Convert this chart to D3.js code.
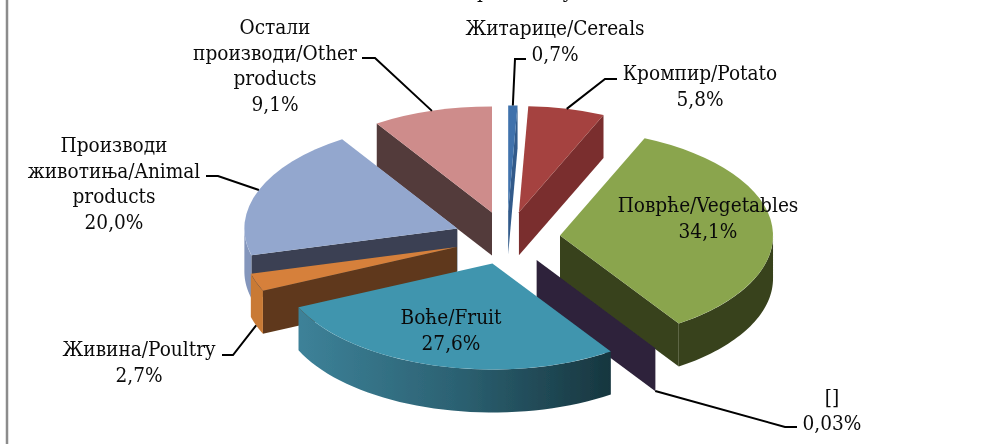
<!DOCTYPE html>
<html>
<head>
<meta charset="utf-8">
<script src="https://cdn.jsdelivr.net/npm/d3@7"></script>
<style>
  html, body { margin: 0; padding: 0; background: #fff; }
  svg { display: block; }
  text { font-family: "DejaVu Serif", serif; font-stretch: condensed; font-size: 20.6px; fill: #0a0a0a; text-anchor: middle; }
</style>
</head>
<body>
<svg id="chart" width="982" height="444"></svg>
<script>
// slices go clockwise from 12 o'clock
const categories = ['cereals', 'potato', 'vegetables', 'empty', 'fruit', 'poultry', 'animal', 'other'];
const values = [0.7, 5.8, 34.1, 0.03, 27.6, 2.7, 20.0, 9.1];
const valueLabels = ['0,7%', '5,8%', '34,1%', '0,03%', '27,6%', '2,7%', '20,0%', '9,1%'];
const nameLines = [
	['Житарице/Cereals'],
	['Кромпир/Potato'],
	['Поврће/Vegetables'],
	['[]'],
	['Воће/Fruit'],
	['Живина/Poultry'],
	['Производи', 'животиња/Animal', 'products'],
	['Остали', 'производи/Other', 'products']
];
// only descenders of the cropped title are left in the picture, these letters are a guess from their shape
const titleScraps = ['р', 'у'];

const w = 982, h = 444;
const cx = 507, cy = 238;
const rx = 213, ry = 106;
const depth = 43;
const explode = 0.25;

const topColors = ['#3f72ac', '#a5433f', '#8aa54d', '#8aa54d', '#3f95ae', '#d6803a', '#93a7ce', '#ce8c8b'];
const sideColors = ['#305a8a', '#7a2f2e', '#39431e', '#2d233a', '#2a5f70', '#5e391a', '#3a4153', '#533a3a'];
const wallColors = ['#305a8a', '#7a2f2e', '#39431e', '#2d233a', 'url(#fruitWall)', '#c97a35', '#8496bc', '#533a3a'];

// far slices first, the near ones paint over them
const drawOrder = ['other', 'cereals', 'potato', 'animal', 'poultry', 'vegetables', 'empty', 'fruit'];

// text centre x, first line y and leader elbow for each label
const labelLayout = {
	cereals: {x: 555, y: 35, leader: [[526, 59], [515, 59]]},
	potato: {x: 700, y: 80, leader: [[617, 79], [605, 79]]},
	vegetables: {x: 708, y: 212},
	empty: {x: 832, y: 404, leader: [[797, 427], [785, 427]]},
	fruit: {x: 451, y: 324},
	poultry: {x: 139, y: 356, leader: [[222, 355], [233, 355]]},
	animal: {x: 114, y: 152, leader: [[206, 176], [218, 176]]},
	other: {x: 275, y: 34, leader: [[362, 58], [375, 58]]}
};
const lineHeight = 25.5;

const svg = d3.select('#chart');
const defs = svg.append('defs');

defs.append('filter').attr('id', 'soft')
	.append('feGaussianBlur').attr('stdDeviation', 0.6);

const grad = defs.append('linearGradient')
	.attr('id', 'fruitWall')
	.attr('gradientUnits', 'userSpaceOnUse')
	.attr('x1', 297).attr('x2', 611).attr('y1', 0).attr('y2', 0);
grad.append('stop').attr('offset', 0).attr('stop-color', '#3d8299');
grad.append('stop').attr('offset', 0.5).attr('stop-color', '#2c6273');
grad.append('stop').attr('offset', 1).attr('stop-color', '#17363f');

const pie = d3.pie().sort(null).startAngle(0).endAngle(2 * Math.PI);
const slices = pie(values).map((d, i) => {
	const mid = (d.startAngle + d.endAngle) / 2;
	return Object.assign(d, {
		key: categories[i],
		index: i,
		mid: mid,
		ax: cx + explode * rx * Math.sin(mid),
		ay: cy - explode * ry * Math.cos(mid)
	});
});

// point on the rim of a slice, dz pushes it down to the bottom of the wall
function rim(d, angle, dz) {
	return [d.ax + rx * Math.sin(angle), d.ay - ry * Math.cos(angle) + (dz || 0)];
}

const line = d3.line();
const arc = d3.arc().innerRadius(0).outerRadius(rx);

function cutFace(d, angle) {
	return line([[d.ax, d.ay], rim(d, angle), rim(d, angle, depth), [d.ax, d.ay + depth]]) + 'Z';
}

function wallPath(d) {
	const a0 = Math.max(d.startAngle, Math.PI / 2);
	const a1 = Math.min(d.endAngle, 3 * Math.PI / 2);
	if (a1 <= a0) return null;
	const steps = d3.range(0, 41).map(k => a0 + (a1 - a0) * k / 40);
	const upper = steps.map(a => rim(d, a));
	const lower = steps.slice().reverse().map(a => rim(d, a, depth));
	return line(upper.concat(lower)) + 'Z';
}

const pieG = svg.append('g').attr('filter', 'url(#soft)');

drawOrder.forEach(key => {
	const d = slices.find(s => s.key === key);
	const g = pieG.append('g').attr('class', 'slice-' + key);

	if (Math.sin(d.startAngle) < 0) {
		g.append('path').attr('d', cutFace(d, d.startAngle)).attr('fill', sideColors[d.index]);
	}
	if (Math.sin(d.endAngle) > 0) {
		g.append('path').attr('d', cutFace(d, d.endAngle)).attr('fill', sideColors[d.index]);
	}
	const wall = wallPath(d);
	if (wall) {
		g.append('path').attr('d', wall).attr('fill', wallColors[d.index]);
	}
	if (key !== 'empty') {
		g.append('path')
			.attr('d', arc(d))
			.attr('transform', 'translate(' + d.ax + ',' + d.ay + ') scale(1,' + (ry / rx) + ')')
			.attr('fill', topColors[d.index]);
	}
});

// leaders run from the label to the rim at the slice's mid angle
slices.forEach(d => {
	const layout = labelLayout[d.key];
	if (!layout.leader) return;
	const onFront = d.key === 'poultry' || d.key === 'empty';
	const end = rim(d, d.mid, onFront ? depth : 0);
	svg.append('path')
		.attr('d', line(layout.leader.concat([end])))
		.attr('fill', 'none')
		.attr('stroke', '#000')
		.attr('stroke-width', 2);
});

slices.forEach(d => {
	const layout = labelLayout[d.key];
	const lines = nameLines[d.index].concat([valueLabels[d.index]]);
	const t = svg.append('text').attr('class', 'label-' + d.key);
	lines.forEach((s, i) => {
		t.append('tspan')
			.attr('x', layout.x)
			.attr('y', layout.y + i * lineHeight)
			.text(s);
	});
});

svg.selectAll('.scrap')
	.data(titleScraps)
	.join('text')
	.attr('class', 'scrap')
	.attr('x', (d, i) => i === 0 ? 483 : 568)
	.attr('y', -2)
	.text(d => d);

// frame of the original picture, only the left edge survives the crop
svg.append('line')
	.attr('x1', 7).attr('x2', 7)
	.attr('y1', 0).attr('y2', h)
	.attr('stroke', '#8c8c8c')
	.attr('stroke-width', 2.5);
</script>
</body>
</html>
